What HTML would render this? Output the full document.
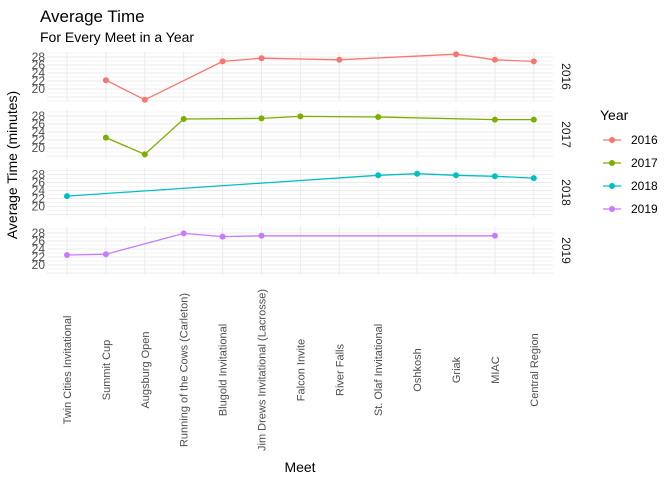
<!DOCTYPE html>
<html><head><meta charset="utf-8"><style>
body{margin:0;background:#fff}
svg{display:block;font-family:"Liberation Sans",sans-serif}
</style></head><body>
<svg id="c" width="672" height="480">
<text x="40" y="22" font-size="17" fill="#000">Average Time</text>
<text x="40" y="42" font-size="14" fill="#000">For Every Meet in a Year</text>
<text transform="translate(17,165) rotate(-90)" text-anchor="middle" font-size="14">Average Time (minutes)</text>
<text x="300" y="472" text-anchor="middle" font-size="14">Meet</text>
<text x="600" y="120" font-size="14">Year</text>
<g id="plots"></g>
</svg>
<script>
const meets=["Twin Cities Invitational","Summit Cup","Augsburg Open","Running of the Cows (Carleton)","Blugold Invitational","Jim Drews Invitational (Lacrosse)","Falcon Invite","River Falls","St. Olaf Invitational","Oshkosh","Griak","MIAC","Central Region"];
const years=["2016","2017","2018","2019"];
const colors=["#F8766D","#7CAE00","#00BFC4","#C77CFF"];
const yTicks=[20,22,24,26,28];
const s2016=[null,22.2,17.3,null,26.9,27.7,null,27.3,null,null,28.7,27.3,26.9];
const s2017=[null,22.6,18.4,27.25,null,27.4,27.9,null,27.75,null,null,27.1,27.1];
const s2018=[22.6,null,null,null,null,null,null,null,27.8,28.2,27.8,27.55,27.1];
const s2019=[22.5,22.7,null,27.9,27.1,27.3,null,null,null,null,null,27.3,null];
const series=[s2016,s2017,s2018,s2019];
const NS="http://www.w3.org/2000/svg";
const g=document.getElementById('plots');
function mk(t,a,p){const e=document.createElementNS(NS,t);for(const k in a)e.setAttribute(k,a[k]);(p||g).appendChild(e);return e;}
const xS=i=>67+i*38.9;
const bases=[57,116,174.5,233];
const panelTop=[52,110,168,226],panelH=49;
years.forEach((yr,pi)=>{
  const yS=v=>bases[pi]+(28-v)*4;
  const pg=mk('g',{});
  
  
  for(let v=17;v<=29;v++){
    const yy=yS(v);if(yy<panelTop[pi]||yy>panelTop[pi]+panelH)continue;
    const l=mk('line',{x1:47,x2:553,y1:yy,y2:yy,stroke:'#ebebeb','stroke-width':v%2?0.5:1},pg);
    
    
  }
  meets.forEach((m,i)=>{
    const l=mk('line',{x1:xS(i),x2:xS(i),y1:panelTop[pi],y2:panelTop[pi]+panelH,stroke:'#ebebeb','stroke-width':1},pg);
    
    
  });
  yTicks.forEach(v=>{
    const t=mk('text',{x:45,y:yS(v)+4,'text-anchor':'end','font-size':12,fill:'#4d4d4d'},pg);
    t.textContent=v;
    
    
  });
  const st=mk('text',{transform:`translate(562,${panelTop[pi]+panelH/2}) rotate(90)`,'text-anchor':'middle','font-size':12,fill:'#1a1a1a'},pg);
  st.textContent=yr;
  
  
  const pts=[];series[pi].forEach((v,i)=>{if(v!==null)pts.push([xS(i),yS(v)]);});
  const pl=mk('polyline',{points:pts.map(p=>p.join(',')).join(' '),fill:'none',stroke:colors[pi],'stroke-width':1.3},pg);
  
  
  pts.forEach(p=>{
    const c=mk('circle',{cx:p[0],cy:p[1],r:3,fill:colors[pi]},pg);
    
    
  });
  const ly=140+pi*23;
  const lg=mk('g',{});
  
  
  mk('line',{x1:603,x2:621,y1:ly,y2:ly,stroke:colors[pi],'stroke-width':1.3},lg);
  mk('circle',{cx:612,cy:ly,r:3,fill:colors[pi]},lg);
  const lt=mk('text',{x:631,y:ly+4,'font-size':12,fill:'#000'},lg);
  lt.textContent=yr;
});
meets.forEach((m,i)=>{
  const t=mk('text',{transform:`translate(${xS(i)+4},370) rotate(-90)`,'text-anchor':'middle','font-size':11,fill:'#4d4d4d'});
  t.textContent=m;
  
  
});
</script>
</body></html>
